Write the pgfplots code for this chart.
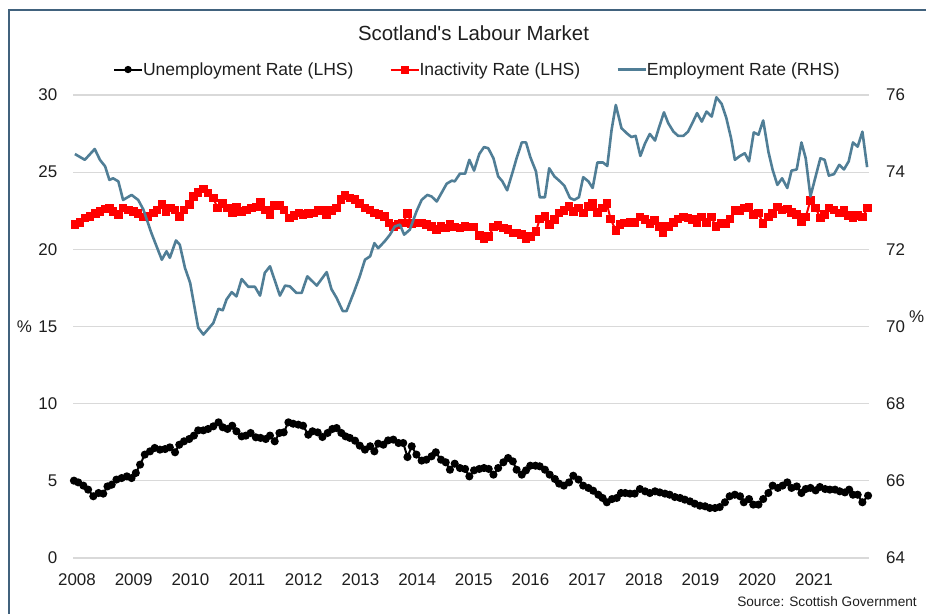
\documentclass[border=0pt]{standalone}
\usepackage{pgfplots}
\pgfplotsset{compat=1.18}
\usepackage{pgfplotstable}
\usepackage{fontspec}
\setmainfont{Liberation Sans}
\definecolor{emp}{RGB}{80,126,150}
\definecolor{framec}{RGB}{65,98,125}
\definecolor{gridc}{RGB}{217,217,217}
\definecolor{txt}{RGB}{30,30,30}

% x = month index (0 = Jan 2008)
\pgfplotstableread{
x y
0.1 5.01
1.0 4.90
2.1 4.69
3.1 4.43
4.2 4.00
5.3 4.21
6.3 4.17
7.2 4.64
8.1 4.75
9.1 5.08
10.2 5.18
11.3 5.29
12.3 5.18
13.2 5.51
14.1 6.05
15.1 6.70
16.2 6.91
17.2 7.13
18.3 7.02
19.4 7.06
20.4 7.17
21.5 6.85
22.4 7.34
23.4 7.56
24.5 7.71
25.5 7.93
26.4 8.27
27.5 8.27
28.5 8.36
29.6 8.53
30.7 8.79
31.6 8.47
32.6 8.36
33.6 8.57
34.5 8.21
35.6 7.88
36.5 7.93
37.5 8.10
38.6 7.82
39.6 7.78
40.7 7.71
41.6 7.93
42.6 7.56
43.6 8.10
44.5 8.14
45.5 8.79
46.5 8.70
47.6 8.64
48.6 8.57
49.7 7.99
50.6 8.21
51.7 8.14
52.7 7.84
53.8 8.10
54.8 8.36
55.7 8.42
56.7 8.10
57.6 7.88
58.5 7.78
59.6 7.60
60.6 7.28
61.7 7.02
62.8 7.24
63.7 6.91
64.5 7.41
65.6 7.34
66.6 7.62
67.7 7.67
68.8 7.45
69.8 7.45
70.7 6.54
71.6 7.24
72.6 6.70
73.7 6.31
74.7 6.37
75.8 6.59
76.7 6.85
77.8 6.37
78.8 6.20
79.7 5.72
80.7 6.11
81.8 5.83
82.9 5.77
83.8 5.29
84.8 5.68
85.9 5.77
86.9 5.83
87.9 5.77
88.9 5.40
89.9 5.83
91.0 6.20
92.0 6.48
93.0 6.26
93.8 5.72
94.9 5.40
95.8 5.68
96.7 5.98
97.8 5.98
98.7 5.94
99.8 5.72
100.8 5.40
101.9 5.12
102.8 4.82
103.8 4.69
104.9 4.90
105.8 5.33
106.9 5.08
107.9 4.69
109.0 4.54
110.0 4.36
111.1 4.10
112.0 3.89
112.9 3.61
114.0 3.82
115.0 3.89
115.9 4.21
116.8 4.21
117.8 4.17
118.8 4.17
119.9 4.47
121.0 4.32
122.0 4.21
123.1 4.32
124.1 4.25
125.2 4.17
126.2 4.10
127.3 3.95
128.4 3.89
129.4 3.78
130.5 3.67
131.5 3.52
132.6 3.39
133.7 3.35
134.7 3.24
135.8 3.24
136.8 3.30
137.9 3.61
138.9 4.00
140.0 4.10
141.1 4.00
141.9 3.61
143.0 3.82
143.9 3.46
145.0 3.46
146.0 3.82
147.1 4.21
148.0 4.69
149.1 4.54
150.1 4.69
151.1 4.90
152.0 4.54
153.1 4.64
154.1 4.21
155.0 4.47
156.0 4.54
157.1 4.38
158.0 4.60
159.1 4.47
160.1 4.43
161.2 4.43
162.2 4.32
163.3 4.25
164.2 4.43
165.0 4.10
166.0 4.10
167.0 3.61
168.2 4.04
}\unemp

\pgfplotstableread{
x y
0.3 21.59
1.4 21.75
2.4 22.03
3.5 22.13
4.6 22.31
5.6 22.46
6.7 22.61
7.6 22.67
8.4 22.46
9.5 22.24
10.5 22.67
11.6 22.56
12.7 22.46
13.7 22.31
14.8 22.09
15.8 22.13
16.9 22.35
17.7 22.56
18.7 22.89
19.6 22.46
20.6 22.67
21.5 22.56
22.5 22.13
23.4 22.56
24.5 22.89
25.4 23.43
26.4 23.69
27.5 23.90
28.5 23.64
29.6 23.32
30.5 22.67
31.6 22.95
32.6 22.67
33.6 22.35
34.5 22.74
35.6 22.46
36.6 22.56
37.7 22.67
38.8 22.74
39.6 23.04
40.7 22.56
41.6 22.24
42.6 22.82
43.7 22.82
44.6 22.56
45.7 22.03
46.7 22.18
47.7 22.35
48.6 22.24
49.7 22.31
50.8 22.35
51.8 22.52
52.7 22.52
53.6 22.24
54.6 22.52
55.7 22.67
56.6 23.21
57.5 23.47
58.5 23.32
59.6 23.21
60.6 22.95
61.7 22.67
62.8 22.56
63.7 22.35
64.7 22.24
65.8 22.13
66.8 21.70
67.7 21.49
68.7 21.59
69.7 21.70
70.7 22.31
71.6 21.66
72.6 21.70
73.7 21.70
74.7 21.59
75.8 21.49
76.9 21.27
77.8 21.49
78.8 21.38
79.7 21.59
80.7 21.44
81.8 21.38
82.9 21.49
83.8 21.44
84.8 21.44
85.9 20.88
86.9 20.67
87.9 20.84
88.9 21.44
89.9 21.53
91.0 21.38
92.0 21.27
93.0 21.06
93.8 21.06
94.9 20.95
95.8 20.67
96.7 20.84
97.9 21.16
98.7 21.96
99.8 22.13
100.8 21.59
101.8 21.92
102.8 22.35
103.8 22.52
104.9 22.78
105.8 22.46
106.9 22.67
107.9 22.35
109.0 22.78
109.9 22.95
110.9 22.39
112.0 22.67
112.9 22.95
113.7 21.96
114.8 21.23
115.7 21.59
116.7 21.70
117.8 21.75
118.8 21.75
119.9 22.09
121.0 21.92
122.0 21.66
123.0 21.88
124.0 21.49
124.8 21.10
125.9 21.49
127.0 21.75
128.0 21.96
129.1 22.09
130.1 22.03
131.0 21.92
132.0 21.70
133.0 22.09
134.0 21.75
135.0 22.09
136.0 21.49
137.1 21.66
138.1 21.66
139.0 21.96
140.0 22.52
141.1 22.52
142.1 22.67
143.0 22.74
144.0 22.24
145.0 22.35
146.0 21.66
147.1 22.09
148.0 22.31
149.0 22.74
150.0 22.56
151.1 22.61
152.0 22.39
153.1 22.24
154.1 21.81
155.0 22.09
156.0 23.17
157.1 22.67
158.1 22.03
159.0 22.24
159.9 22.67
161.0 22.56
162.1 22.35
163.1 22.52
164.1 22.18
165.0 22.03
166.0 22.18
167.0 22.09
168.1 22.67
}\inact

\pgfplotstableread{
x y
0.3 74.47
2.4 74.32
4.5 74.60
5.6 74.32
6.7 74.15
7.6 73.80
8.4 73.84
9.5 73.76
10.5 73.28
12.3 73.41
13.7 73.28
14.8 73.03
16.5 72.42
18.7 71.73
19.7 71.95
20.4 71.78
21.7 72.23
22.5 72.12
23.6 71.52
24.7 71.13
26.4 69.97
27.5 69.79
29.6 70.09
30.7 70.46
31.6 70.42
32.4 70.70
33.5 70.89
34.5 70.78
35.6 71.23
37.0 71.03
38.4 71.03
39.5 70.80
40.5 71.39
41.6 71.56
43.7 70.80
44.8 71.06
45.8 71.04
47.2 70.87
48.3 70.87
49.5 71.30
51.5 71.06
53.6 71.41
54.6 70.97
55.7 70.74
57.0 70.40
57.8 70.40
59.4 70.90
60.6 71.30
61.7 71.73
62.8 71.82
63.7 72.16
64.5 72.03
65.9 72.21
67.0 72.38
68.0 72.59
69.1 72.64
70.0 72.38
71.2 72.51
72.6 72.98
73.7 73.28
74.9 73.41
75.8 73.37
76.9 73.24
77.9 73.46
79.0 73.70
80.1 73.78
80.7 73.76
81.8 73.96
82.9 73.96
83.8 74.32
84.8 74.04
85.9 74.47
86.9 74.65
87.8 74.62
88.9 74.36
89.9 73.89
90.8 73.76
91.8 73.53
93.0 74.02
93.8 74.36
94.9 74.77
95.8 74.77
96.7 74.39
97.9 74.02
98.7 73.35
99.8 73.35
100.7 74.10
101.8 73.89
103.0 73.76
103.9 73.65
105.1 73.33
106.0 73.28
107.0 73.35
107.9 73.87
109.0 73.76
109.9 73.59
110.9 74.25
112.1 74.25
113.0 74.16
113.9 75.09
114.8 75.74
116.0 75.14
117.1 75.01
118.1 74.91
119.0 74.94
120.0 74.42
121.0 74.75
122.0 74.99
123.1 74.82
124.0 75.18
125.0 75.55
125.9 75.27
127.0 75.05
128.0 74.94
129.1 74.94
130.1 75.05
131.0 75.27
132.0 75.53
133.0 75.31
134.0 75.57
135.1 75.44
136.1 75.94
137.2 75.77
138.2 75.40
139.2 74.88
140.0 74.32
141.1 74.42
142.1 74.49
143.0 74.28
144.0 75.03
145.0 74.97
146.0 75.34
147.1 74.53
148.0 74.06
149.0 73.67
150.0 73.84
151.1 73.59
152.0 74.04
153.1 74.07
154.1 74.77
155.0 74.36
156.0 73.37
157.1 73.89
158.1 74.36
159.0 74.32
159.9 73.91
161.0 73.95
162.1 74.19
163.1 74.07
164.1 74.28
165.0 74.77
166.0 74.66
167.0 75.05
168.0 74.13
}\empl

\pgfplotsset{
  unempstyle/.style={black, line width=2bp, mark=*, mark size=3bp, mark options={solid}},
  inactstyle/.style={red, line width=2bp, mark=square*, mark size=3.3bp, mark options={solid}},
  base/.style={
    at={(73bp,56bp)}, anchor=south west,
    scale only axis, width=796bp, height=463bp,
    xmin=-0.1, xmax=168.4,
    axis line style={draw=none},
    major tick length=0pt,
    tick label style={font=\fontsize{17}{20}\selectfont, inner sep=0pt, text=txt},
    /pgf/number format/assume math mode=true,
    clip=false,
  },
}

\begin{document}
\begin{tikzpicture}[x=1bp,y=1bp]
\useasboundingbox (0,0) rectangle (926,614);
\draw[framec, line width=2.6bp] (9,-10) -- (9,604) -- (940,604);

\begin{axis}[base,
  ymin=0, ymax=30, ytick={0,5,...,30},
  xtick={0,12,...,156},
  xticklabels={2008,2009,2010,2011,2012,2013,2014,2015,2016,2017,2018,2019,2020,2021},
  ymajorgrids, grid style={gridc, line width=1.2bp},
  yticklabel style={anchor=east, xshift=-15.5bp},
  xticklabel style={anchor=center, yshift=-22bp, xshift=3.5bp},
]
\addplot[inactstyle] table {\inact};
\addplot[unempstyle] table {\unemp};
\end{axis}

\begin{axis}[base,
  ymin=64, ymax=76, ytick={64,66,...,76},
  axis x line=none, axis y line*=right,
  yticklabel style={anchor=west, xshift=17bp},
  legend columns=3,
  legend cell align=left,
  legend image code/.code={\draw[mark repeat=2,mark phase=2,#1] plot coordinates {(0bp,0bp) (14bp,0bp) (28bp,0bp)};},
  legend style={draw=none, fill=none, at={(rel axis cs:0.0503,1.055)}, anchor=west,
    inner sep=0pt, outer sep=0pt,
    font=\fontsize{17.6}{20}\selectfont,
    nodes={inner sep=0pt, text=txt},
    /tikz/every even column/.append style={column sep=36bp}},
]
\addlegendimage{unempstyle, mark size=2.6bp}
\addlegendentry{Unemployment Rate (LHS)}
\addlegendimage{inactstyle, mark size=3bp}
\addlegendentry{Inactivity Rate (LHS)}
\addplot[emp, line width=2.6bp, line join=round] table {\empl};
\addlegendentry{Employment Rate (RHS)}
\end{axis}

\node[anchor=base, font=\fontsize{20.5}{24}\selectfont, inner sep=0pt, text=txt] at (473.5,573.3) {Scotland\textquotesingle s Labour Market};
\node[font=\fontsize{17}{20}\selectfont, inner sep=0pt, text=txt] at (24.5,287) {\%};
\node[anchor=west, font=\fontsize{17}{20}\selectfont, inner sep=0pt, text=txt] at (909,297) {\%};
\node[anchor=base east, font=\fontsize{13.7}{16}\selectfont, inner sep=0pt, text=txt] at (917,7) {Source: Scottish Government};
\end{tikzpicture}
\end{document}
